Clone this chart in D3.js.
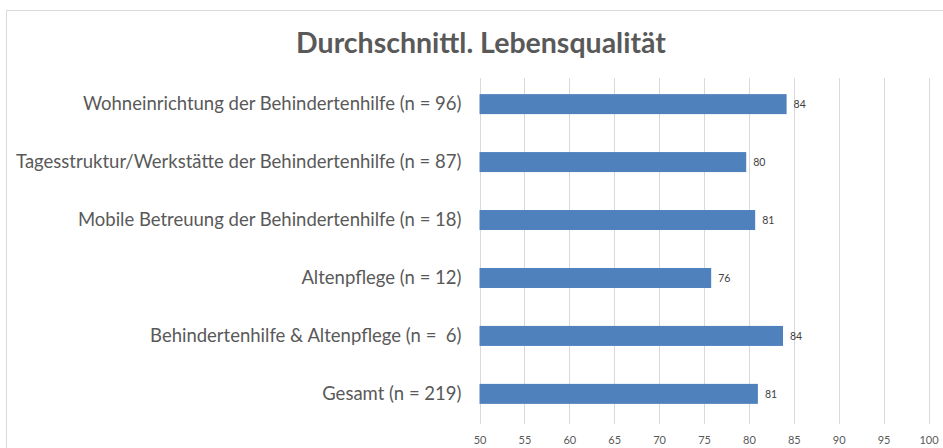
<!DOCTYPE html>
<html>
<head>
<meta charset="utf-8">
<script src="https://cdn.jsdelivr.net/npm/d3@7"></script>
<style>
  body { margin: 0; background: #fff; }
  text { font-family: Lato, "Open Sans", sans-serif; white-space: pre; }
</style>
</head>
<body>
<script>
// data
var categories = [
    "Wohneinrichtung der Behindertenhilfe (n = 96)",
    "Tagesstruktur/Werkstätte der Behindertenhilfe (n = 87)",
    "Mobile Betreuung der Behindertenhilfe (n = 18)",
    "Altenpflege (n = 12)",
    "Behindertenhilfe & Altenpflege (n =  6)",
    "Gesamt (n = 219)"
];
var values = [84.2, 79.7, 80.7, 75.8, 83.8, 81.0];
var xTicks = [50, 55, 60, 65, 70, 75, 80, 85, 90, 95, 100];

var DATA = [];
for (var i = 0; i < categories.length; i++) {
    DATA.push({cat: categories[i], v: values[i]});
}

var W = 943, H = 448;
var svg = d3.select("body").append("svg")
    .attr("width", W)
    .attr("height", H);

// chart border
svg.append("rect")
    .attr("x", 6.5).attr("y", 10.5)
    .attr("width", W).attr("height", H)
    .attr("fill", "#fff")
    .attr("stroke", "#d9d9d9");

var xScale = d3.scaleLinear().domain([50, 100]).range([479.5, 928.5]);
var yScale = d3.scaleBand().domain(categories).range([75, 423]).paddingInner(0.655).paddingOuter(0.33);

// gridlines
svg.append("g").selectAll("line").data(xTicks).enter().append("line")
    .attr("x1", function (d) { return Math.round(xScale(d)) + 0.5; })
    .attr("x2", function (d) { return Math.round(xScale(d)) + 0.5; })
    .attr("y1", 78)
    .attr("y2", 424)
    .attr("stroke", "#d9d9d9");

// x axis labels
var xAxis = svg.append("g")
    .attr("transform", "translate(0,424)")
    .call(d3.axisBottom(xScale).tickValues(xTicks).tickSize(0).tickPadding(12));
xAxis.select(".domain").remove();
xAxis.selectAll("text")
    .attr("fill", "#595959")
    .style("font-size", "11px")
    .style("font-family", "Lato, sans-serif");

// bars
svg.append("g").selectAll("rect").data(DATA).enter().append("rect")
    .attr("x", xScale(50))
    .attr("y", function (d) { return yScale(d.cat); })
    .attr("width", function (d) { return xScale(d.v) - xScale(50); })
    .attr("height", yScale.bandwidth())
    .attr("fill", "#4f81bd");

// data labels
svg.append("g").selectAll("text").data(DATA).enter().append("text")
    .attr("x", function (d) { return xScale(d.v) + 7; })
    .attr("y", function (d) { return yScale(d.cat) + yScale.bandwidth() / 2; })
    .attr("dy", "0.35em")
    .attr("fill", "#404040")
    .style("font-size", "10.5px")
    .text(function (d) { return d3.format(".0f")(d.v); });

// category labels
var yAxis = svg.append("g")
    .attr("transform", "translate(" + xScale(50) + ",0)")
    .call(d3.axisLeft(yScale).tickSize(0).tickPadding(18));
yAxis.select(".domain").remove();
yAxis.selectAll("text")
    .attr("fill", "#595959")
    .style("font-size", "18.5px")
    .style("font-family", "Lato, sans-serif")
    .style("white-space", "pre");

// title
svg.append("text")
    .attr("x", 481)
    .attr("y", 53)
    .attr("text-anchor", "middle")
    .attr("fill", "#595959")
    .style("font-size", "28.5px")
    .style("font-weight", "bold")
    .text("Durchschnittl. Lebensqualität");
</script>
</body>
</html>
